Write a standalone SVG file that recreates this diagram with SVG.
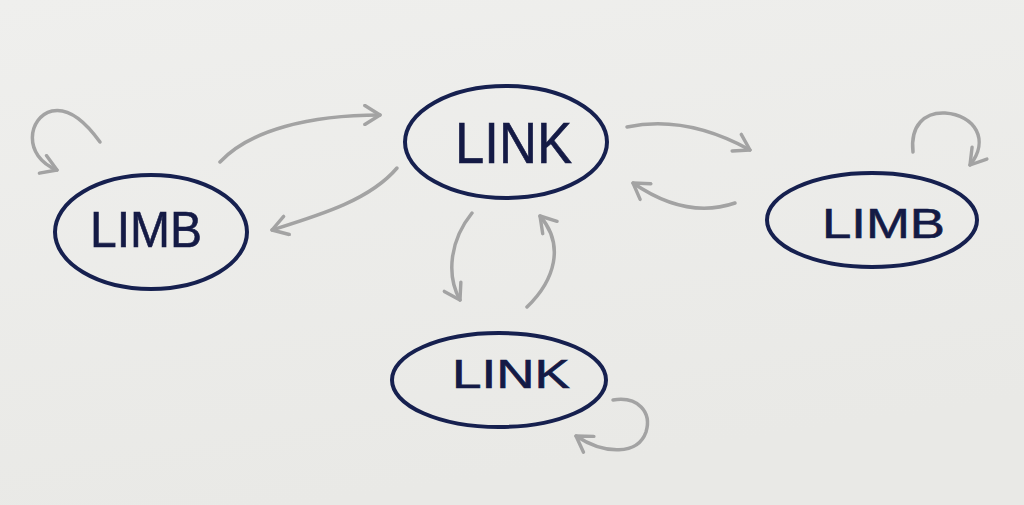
<svg xmlns="http://www.w3.org/2000/svg" width="1024" height="505" viewBox="0 0 1024 505">
<defs>
<style>
.node ellipse{fill:none;stroke:#16204f;stroke-width:4}
.node text{font-family:"Liberation Sans",Arial,sans-serif;fill:#141a45;stroke:#141a45;stroke-width:0.6}
.edge{fill:none;stroke:#a3a3a3;stroke-width:3.5;stroke-linecap:round;stroke-linejoin:round}
</style>
<linearGradient id="bg" x1="0" y1="0" x2="0.3" y2="1">
<stop offset="0" stop-color="#efefed"/>
<stop offset="1" stop-color="#e9e9e6"/>
</linearGradient>
<marker id="ah" viewBox="0 0 12 12" refX="10" refY="6" markerWidth="6.5" markerHeight="6.5" orient="auto" markerUnits="strokeWidth">
<path d="M2,1 L10,6 L2,11" fill="none" stroke="#a3a3a3" stroke-width="1.8" stroke-linecap="round" stroke-linejoin="round"/>
</marker>
</defs>
<rect width="1024" height="505" fill="url(#bg)"/>
<g id="connectors">
<path class="edge" marker-end="url(#ah)" d="M100,142 C 82,117 66,108 52,111 C 28,117 22,156 57,170"/>
<path class="edge" marker-end="url(#ah)" d="M220,162 C 250,130 310,115 380,115"/>
<path class="edge" marker-end="url(#ah)" d="M397,168 C 370,200 320,215 272,230"/>
<path class="edge" marker-end="url(#ah)" d="M627,127 C 670,118 710,128 750,150"/>
<path class="edge" marker-end="url(#ah)" d="M735,203 C 700,215 665,205 633,183"/>
<path class="edge" marker-end="url(#ah)" d="M913,152 C 910,125 925,112 945,113 C 975,115 990,140 970,165"/>
<path class="edge" marker-end="url(#ah)" d="M472,213 C 450,240 446,275 460,300"/>
<path class="edge" marker-end="url(#ah)" d="M527,307 C 555,280 565,245 540,216"/>
<path class="edge" marker-end="url(#ah)" d="M613,400 C 638,396 652,412 646,432 C 638,455 605,455 576,436"/>
</g>
<g id="node-limb-left" class="node">
<ellipse cx="151" cy="232" rx="96" ry="57"/>
<text x="90" y="247" font-size="50" textLength="112" lengthAdjust="spacingAndGlyphs">LIMB</text>
</g>
<g id="node-link-top" class="node">
<ellipse cx="506" cy="142" rx="101" ry="56"/>
<text x="455" y="163" font-size="58" textLength="117" lengthAdjust="spacingAndGlyphs">LINK</text>
</g>
<g id="node-limb-right" class="node">
<ellipse cx="872" cy="220" rx="105" ry="47"/>
<text x="822" y="238" font-size="42" textLength="123" lengthAdjust="spacingAndGlyphs">LIMB</text>
</g>
<g id="node-link-bottom" class="node">
<ellipse cx="499" cy="380" rx="107" ry="47"/>
<text x="452" y="388" font-size="40" textLength="118" lengthAdjust="spacingAndGlyphs">LINK</text>
</g>
</svg>
